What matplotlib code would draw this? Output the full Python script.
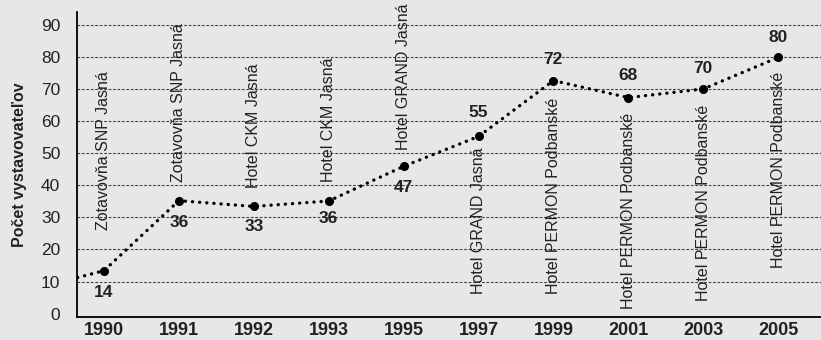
import matplotlib.pyplot as plt
import numpy as np

plt.rcParams['font.family'] = ['Liberation Sans', 'DejaVu Sans']

years = ["1990", "1991", "1992", "1993", "1995", "1997", "1999", "2001", "2003", "2005"]
values = [13.4, 35.2, 33.4, 35.1, 45.9, 55.2, 72.6, 67.3, 70.0, 79.8]
value_labels = ["14", "36", "33", "36", "47", "55", "72", "68", "70", "80"]
venues = ["Zotavovňa SNP Jasná", "Zotavovňa SNP Jasná", "Hotel CKM Jasná",
          "Hotel CKM Jasná", "Hotel GRAND Jasná", "Hotel GRAND Jasná",
          "Hotel PERMON Podbanské", "Hotel PERMON Podbanské",
          "Hotel PERMON Podbanské", "Hotel PERMON Podbanské"]
# line continues in from the left edge (earlier value, clipped)
lead_value = 7.3

# label placement (data y)
value_label_y = [6.6, 28.4, 27.0, 29.6, 39.4, 62.7, 79.2, 74.2, 76.4, 86.0]
venue_label_y = [26.0, 41.0, 39.0, 41.0, 51.0, 6.2, 6.2, 1.5, 4.0, 14.3]

bg = "#e6e7e9"
fig = plt.figure(figsize=(8.21, 3.40), dpi=100, facecolor=bg)
ax = fig.add_axes([0.0938, 0.068, 0.906, 0.897], facecolor=bg)

x = np.arange(len(years))
ax.plot(np.r_[-1, x], np.r_[lead_value, values], color="black", linestyle=(0, (0.05, 2.1)),
        linewidth=2.4, dash_capstyle="round", zorder=3)
ax.plot(x, values, "o", color="black", markersize=5.5, zorder=4)

for i in range(len(years)):
    ax.text(x[i], value_label_y[i], value_labels[i], ha="center", va="center",
            fontsize=12.5, fontweight="bold", color="#222222", zorder=5)
    ax.text(x[i], venue_label_y[i], venues[i], rotation=90, ha="center", va="bottom",
            fontsize=11.5, color="#222222", zorder=5)

ax.set_xlim(-0.36, 9.57)
ax.set_ylim(-1, 94)
ax.set_yticks(range(0, 100, 10))
ax.set_xticks(x)
ax.set_xticklabels(years, fontweight="bold", fontsize=13, color="#222222")
ax.tick_params(axis="y", length=0, pad=12, labelsize=12.5, labelcolor="#222222")
ax.tick_params(axis="x", length=0, pad=4)
ax.set_ylabel("Počet vystavovateľov", fontweight="bold", fontsize=11.5, color="#222222", labelpad=10)

for y in range(10, 100, 10):
    ax.axhline(y, color="#444444", linewidth=0.8, linestyle=(0, (2.5, 1.5)), zorder=1)

for s in ["top", "right"]:
    ax.spines[s].set_visible(False)
ax.spines["left"].set_linewidth(1.3)
ax.spines["bottom"].set_linewidth(1.3)

plt.savefig("out.png", dpi=100, facecolor=bg)
